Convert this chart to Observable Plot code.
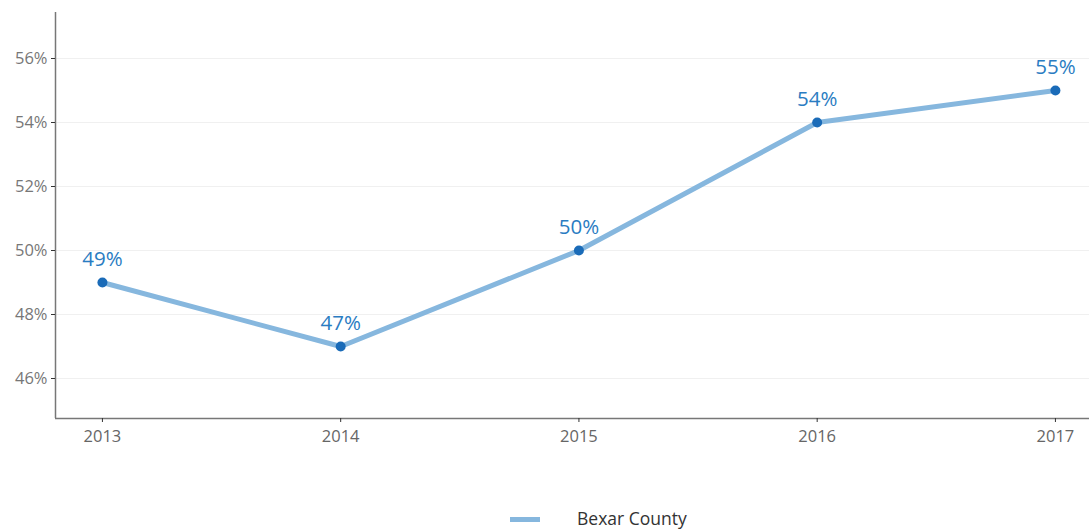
<!DOCTYPE html>
<html><head><meta charset="utf-8">
<script src="https://cdn.jsdelivr.net/npm/d3@7"></script>
<script src="https://cdn.jsdelivr.net/npm/@observablehq/plot@0.6"></script>
<style>
body{margin:0;background:#fff;font-family:"Open Sans",Lato,sans-serif;}
#legend{position:relative;height:64px;width:1089px;}
#legend .sw{position:absolute;left:510px;top:52px;width:30px;height:5px;background:#86b7de;}
#legend .lb{position:absolute;left:577px;top:41px;font-size:17.5px;color:#333;}
</style></head>
<body>
<div id="chart"></div>
<div id="legend"><div class="sw"></div><div class="lb">Bexar County</div></div>
<script>
const years = [2013, 2014, 2015, 2016, 2017];
const values = [49, 47, 50, 54, 55];
const yTicks = [46, 48, 50, 52, 54, 56];
const seriesName = "Bexar County";

const data = years.map((y, i) => ({year: y, value: values[i], series: seriesName}));
const xMin = 2012.803, xMax = 2017.143, yMin = 44.75, yMax = 57.4375;

const chart = Plot.plot({
  width: 1089, height: 465,
  marginLeft: 55, marginRight: 0, marginTop: 12, marginBottom: 47,
  style: {fontFamily: "'Open Sans', Lato, sans-serif", background: "#fff"},
  x: {domain: [xMin, xMax], label: null},
  y: {domain: [yMin, yMax], label: null},
  marks: [
    Plot.gridY(yTicks, {stroke: "#f0f0f0", strokeOpacity: 1}),
    Plot.ruleX([xMin], {stroke: "#777", strokeWidth: 1.5}),
    Plot.ruleY([yMin], {stroke: "#777", strokeWidth: 1.5}),
    Plot.axisY(yTicks, {tickFormat: d => d + "%", tickSize: 4, tickPadding: 4, fontSize: 16.5, color: "#777", stroke: "#333"}),
    Plot.axisX(years, {tickFormat: d => String(d), tickSize: 4, tickPadding: 8, fontSize: 16.5, color: "#666", stroke: "#333"}),
    Plot.line(data, {x: "year", y: "value", stroke: "#86b7de", strokeWidth: 5}),
    Plot.dot(data, {x: "year", y: "value", r: 5, fill: "#1a6bb8"}),
    Plot.text(data, {x: "year", y: "value", text: d => d.value + "%", dy: -23, fontSize: 20.5, fill: "#2a7cc2"})
  ]
});
document.getElementById("chart").appendChild(chart);
</script>
</body></html>
